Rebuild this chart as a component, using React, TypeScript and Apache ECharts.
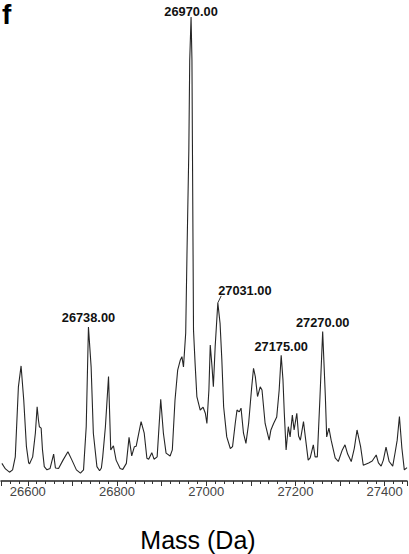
import { useEffect, useRef } from 'react';
import * as echarts from 'echarts';

// Deconvoluted mass spectrum (mass in Da, relative intensity %)
const masses = [
  26542, 26550, 26559, 26566, 26572, 26579, 26585, 26591, 26597, 26602,
  26604, 26611, 26617, 26621, 26624, 26626, 26630, 26633, 26637, 26643,
  26650, 26658, 26662, 26669, 26679, 26690, 26699, 26709, 26718, 26725,
  26731, 26736, 26742, 26747, 26755, 26761, 26765, 26768, 26774, 26781,
  26786, 26792, 26798, 26807, 26813, 26821, 26827, 26833, 26839, 26843,
  26854, 26861, 26867, 26871, 26878, 26883, 26890, 26898, 26904, 26910,
  26919, 26924, 26930, 26936, 26942, 26945.5, 26949, 26954, 26957, 26961,
  26963, 26966, 26968, 26969, 26971.5, 26975, 26979, 26986.5, 26993, 26998,
  27001.5, 27006, 27009, 27013, 27016, 27020, 27026, 27031, 27035, 27039,
  27046, 27054, 27059, 27065, 27069, 27074, 27078, 27083.5, 27089, 27095,
  27102, 27106, 27110, 27115, 27121, 27125, 27132, 27141, 27145, 27151,
  27158, 27163.5, 27168, 27172, 27175, 27179, 27184, 27188, 27193, 27197,
  27203, 27207, 27211, 27218, 27223, 27228.5, 27233, 27240, 27244, 27249,
  27255, 27261, 27267, 27270, 27275, 27280, 27289, 27296, 27305, 27311,
  27317, 27325, 27332, 27338, 27346, 27352, 27364, 27372, 27381, 27386,
  27392, 27397, 27403, 27410, 27418, 27423.5, 27428, 27433, 27438.5, 27444,
  27450,
];
const intensities = [
  3.8, 2.6, 1.9, 2.4, 5.2, 20.3, 24.8, 17.4, 7.4, 3.9,
  3.7, 5.2, 10.3, 16.0, 13.1, 11.7, 11.4, 6.7, 3.1, 2.4,
  2.7, 5.8, 2.8, 2.7, 4.5, 6.3, 4.5, 2.4, 1.7, 2.4,
  11.7, 33.2, 24.6, 10.3, 3.1, 2.2, 2.8, 5.2, 11.7, 22.5,
  6.7, 7.6, 4.5, 2.7, 2.5, 3.8, 9.4, 5.4, 7.4, 7.5,
  12.8, 10.3, 4.9, 4.7, 6.1, 4.7, 5.2, 17.6, 10.3, 6.0,
  5.4, 6.7, 17.4, 23.9, 26.1, 26.8, 24.6, 31.9, 49.8, 71.3,
  90.7, 100, 90.7, 73.4, 32.5, 25.4, 18.2, 15.3, 15.9, 14.6,
  12.4, 19.6, 29.3, 24.6, 20.3, 28.9, 38.4, 34.0, 26.1, 16.0,
  9.5, 7.0, 7.4, 12.4, 15.3, 14.9, 15.7, 10.3, 8.1, 12.4,
  20.3, 24.3, 22.5, 18.2, 20.3, 19.6, 12.4, 8.8, 11.0, 12.4,
  13.8, 19.6, 27.1, 21.8, 14.6, 6.7, 11.7, 9.5, 14.2, 11.0,
  14.6, 9.7, 8.8, 12.8, 8.8, 4.5, 5.0, 7.8, 5.2, 5.2,
  18.2, 32.2, 18.2, 9.5, 11.4, 8.8, 5.0, 4.2, 6.7, 7.8,
  5.8, 4.2, 7.1, 11.0, 7.4, 3.4, 3.9, 4.3, 5.6, 3.9,
  3.2, 4.5, 7.3, 4.2, 3.2, 6.2, 8.8, 13.9, 7.1, 2.4,
  2.9,
];
const peakMasses = [26736, 26966, 27026, 27168, 27261];
const peakLabels = ['26738.00', '26970.00', '27031.00', '27175.00', '27270.00'];
const labelledTicks = [26600, 26800, 27000, 27200, 27400];
const xMin = 26540;
const xMax = 27450;
const axisTitle = 'Mass (Da)';
const panelLetter = 'f';

export default function App() {
  const ref = useRef<HTMLDivElement>(null);

  useEffect(() => {
    if (!ref.current) return;
    const chart = echarts.init(ref.current, null, { renderer: 'svg' });

    const offsetPeak = peakLabels.indexOf('27031.00');
    const offsetIndex = masses.indexOf(peakMasses[offsetPeak]);
    const maxI = Math.max(...intensities);
    const font = 'Liberation Sans, Arial, sans-serif';

    const data = masses.map((m, i) => {
      const p = peakMasses.indexOf(m);
      if (p < 0) return { value: [m, intensities[i]], symbolSize: 0 };
      const isMain = intensities[i] === maxI;
      return {
        value: [m, intensities[i]],
        symbolSize: 0,
        label: {
          show: true,
          position: 'top',
          distance: isMain ? -1 : 2.5,
          formatter: peakLabels[p],
          fontFamily: font,
          fontWeight: 'bold',
          fontSize: 12.8,
          color: '#111',
        },
      };
    });

    const leaderStart = [masses[offsetIndex], intensities[offsetIndex]];
    const leaderEnd = [masses[offsetIndex] + 7.5, intensities[offsetIndex] + 1.5];

    chart.setOption({
      animation: false,
      backgroundColor: '#fff',
      grid: {
        left: 1,
        right: 2,
        top: 17,
        bottom: 73,
        containLabel: false,
        outerBoundsMode: 'none',
      },
      xAxis: {
        type: 'value',
        min: xMin,
        max: xMax,
        splitNumber: 9,
        name: axisTitle,
        nameLocation: 'middle',
        nameGap: 46,
        nameTextStyle: {
          fontFamily: font,
          fontSize: 25,
          color: '#000',
          padding: [0, 12, 0, 0],
        },
        axisLine: { show: true, onZero: false, lineStyle: { color: '#222', width: 1.5 } },
        axisTick: { show: true, length: 5, inside: false, lineStyle: { color: '#333', width: 1 } },
        minorTick: { show: true, splitNumber: 5, length: 3, lineStyle: { color: '#333', width: 1 } },
        axisLabel: {
          show: true,
          margin: 4,
          fontFamily: font,
          fontSize: 13,
          color: '#444',
          showMinLabel: false,
          showMaxLabel: false,
          formatter: (v: number) => (labelledTicks.includes(Math.round(v)) ? String(Math.round(v)) : ''),
        },
        splitLine: { show: false },
        minorSplitLine: { show: false },
      },
      yAxis: {
        type: 'value',
        min: 0,
        max: 100,
        show: false,
        splitLine: { show: false },
      },
      graphic: [
        {
          type: 'text',
          left: 2,
          top: 0,
          style: {
            text: panelLetter,
            fontFamily: font,
            fontWeight: 'bold',
            fontSize: 28,
            fill: '#000',
          },
        },
      ],
      series: [
        {
          type: 'line',
          data,
          showSymbol: true,
          symbol: 'circle',
          symbolSize: 0,
          smooth: false,
          silent: true,
          lineStyle: { color: '#262626', width: 1.1 },
          labelLayout: (params: any) =>
            params.dataIndex === offsetIndex ? { dx: 27, dy: -3 } : {},
          emphasis: { disabled: true },
          markLine: {
            silent: true,
            symbol: 'none',
            label: { show: false },
            lineStyle: { color: '#333', width: 1, type: 'solid' },
            data: [[{ coord: leaderStart }, { coord: leaderEnd }]],
          },
        },
      ],
    });

    return () => chart.dispose();
  }, []);

  return (
    <div
      ref={ref}
      style={{ position: 'fixed', left: 0, top: 0, width: 409, height: 554, background: '#fff' }}
    />
  );
}
